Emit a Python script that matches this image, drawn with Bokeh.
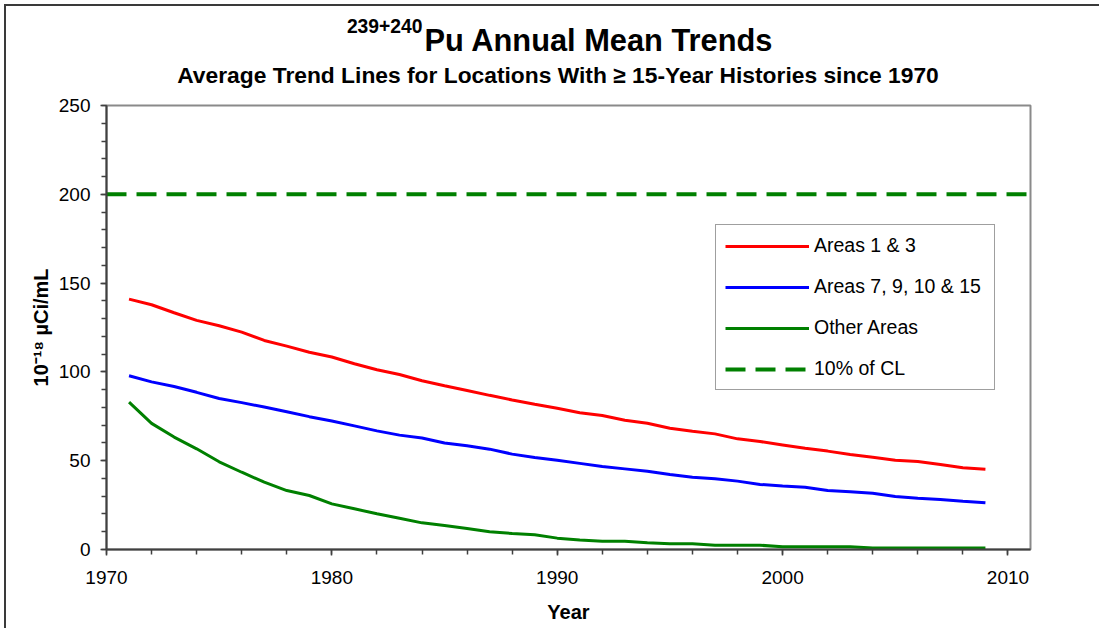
from bokeh.plotting import figure
from bokeh.layouts import column
from bokeh.models import Range1d, Label, FixedTicker
from bokeh.embed import file_html
from bokeh.resources import INLINE

# ---------------- data ----------------
years = list(range(1971, 2010))
areas_1_3 = [141.0, 137.8, 133.3, 129.0, 126.0, 122.4, 117.7, 114.5, 111.1, 108.4,
             104.6, 101.2, 98.5, 95.0, 92.2, 89.5, 86.8, 84.2, 81.8, 79.5,
             77.0, 75.5, 72.8, 71.1, 68.3, 66.6, 65.1, 62.3, 60.8, 58.9,
             57.0, 55.4, 53.5, 52.0, 50.3, 49.5, 47.9, 46.0, 45.2]
areas_7_9_10_15 = [97.8, 94.4, 91.8, 88.5, 85.0, 82.7, 80.2, 77.6, 74.8, 72.4,
                   69.6, 66.8, 64.4, 62.8, 60.0, 58.4, 56.5, 53.7, 51.8, 50.3,
                   48.5, 46.7, 45.4, 44.1, 42.2, 40.7, 39.8, 38.5, 36.6, 35.8,
                   35.1, 33.2, 32.5, 31.7, 29.8, 28.9, 28.2, 27.2, 26.3]
other_areas = [83.0, 71.0, 63.3, 56.7, 49.4, 43.5, 37.9, 33.2, 30.4, 25.7,
               22.9, 20.1, 17.6, 15.0, 13.5, 11.8, 10.0, 9.0, 8.3, 6.4,
               5.4, 4.7, 4.7, 3.8, 3.2, 3.2, 2.4, 2.4, 2.4, 1.5,
               1.5, 1.5, 1.5, 0.8, 0.8, 0.8, 0.8, 0.8, 0.8]
cl_years = [1970, 2011]
cl_level = [200, 200]

series_labels = ["Areas 1 & 3", "Areas 7, 9, 10 & 15", "Other Areas", "10% of CL"]
x_ticks = [1970, 1980, 1990, 2000, 2010]
x_minor = list(range(1970, 2012, 2))
y_ticks = [0, 50, 100, 150, 200, 250]
y_minor = list(range(0, 251, 10))

title_sup = "239+240"
title_main = "Pu Annual Mean Trends"
subtitle = "Average Trend Lines for Locations With \u2265 15-Year Histories since 1970"
y_label = "10\u207b\u00b9\u2078 \u00b5Ci/mL"
x_label = "Year"

FONT = "Liberation Sans"
AXIS_C = "#404040"
W = 1095

# ---------------- title strip (frame is aligned with the chart frame) ----------------
TH = 89
t = figure(width=W, height=TH, output_backend="svg", toolbar_location=None,
           x_range=Range1d(106, 1030), y_range=Range1d(TH, 0),
           min_border=0, min_border_left=100, min_border_right=71,
           min_border_top=0, min_border_bottom=0)
t.axis.visible = False
t.grid.visible = False
t.outline_line_color = None
t.add_layout(Label(x=422, y=19.3, text=title_sup, text_align="right",
                   text_baseline="alphabetic", text_font=FONT, text_font_size="19.3px",
                   text_font_style="bold", text_color="black"))
t.add_layout(Label(x=424, y=34.3, text=title_main, text_align="left",
                   text_baseline="alphabetic", text_font=FONT, text_font_size="30.8px",
                   text_font_style="bold", text_color="black"))
t.add_layout(Label(x=557.5, y=68.7, text=subtitle, text_align="center",
                   text_baseline="alphabetic", text_font=FONT, text_font_size="22.8px",
                   text_font_style="bold", text_color="black"))

# ---------------- main chart ----------------
p = figure(width=W, height=535, output_backend="svg", toolbar_location=None,
           x_range=Range1d(1970, 2011), y_range=Range1d(0, 250),
           min_border_left=100, min_border_right=71, min_border_top=10,
           min_border_bottom=81)

p.xgrid.visible = False
p.ygrid.visible = False
p.outline_line_color = "#8a8a8a"
p.outline_line_width = 2

p.xaxis.ticker = FixedTicker(ticks=x_ticks, minor_ticks=x_minor)
p.yaxis.ticker = FixedTicker(ticks=y_ticks, minor_ticks=y_minor)

for ax in (p.xaxis, p.yaxis):
    ax.axis_line_color = AXIS_C
    ax.axis_line_width = 2
    ax.major_tick_line_color = AXIS_C
    ax.minor_tick_line_color = AXIS_C
    ax.major_tick_line_width = 1.5
    ax.minor_tick_line_width = 1.5
    ax.major_tick_out = 6
    ax.major_tick_in = 0
    ax.minor_tick_out = 5
    ax.minor_tick_in = 0
    ax.major_label_text_font = FONT
    ax.major_label_text_font_size = "19px"
    ax.major_label_text_color = "black"
    ax.axis_label_text_font = FONT
    ax.axis_label_text_font_size = "20px"
    ax.axis_label_text_font_style = "bold"
    ax.axis_label_text_color = "black"

p.xaxis.major_label_standoff = 15
p.yaxis.major_label_standoff = 10
p.xaxis.axis_label = x_label
p.yaxis.axis_label = y_label
p.xaxis.axis_label_standoff = 14
p.yaxis.axis_label_standoff = 4

p.line(years, areas_1_3, line_color="#ff0000", line_width=3, legend_label=series_labels[0])
p.line(years, areas_7_9_10_15, line_color="#0000ff", line_width=3, legend_label=series_labels[1])
p.line(years, other_areas, line_color="#008000", line_width=3, legend_label=series_labels[2])
p.line(cl_years, cl_level, line_color="#008000", line_width=4, line_dash="20 10",
       legend_label=series_labels[3])

lg = p.legend[0]
lg.location = (609, 159)
lg.margin = 0
lg.padding = 9
lg.spacing = 18
lg.glyph_width = 84
lg.glyph_height = 20
lg.label_height = 20
lg.label_width = 171
lg.label_standoff = 5
lg.label_text_font = FONT
lg.label_text_font_size = "19.5px"
lg.label_text_color = "black"
lg.border_line_color = "#404040"
lg.border_line_width = 1.5
lg.background_fill_color = "white"
lg.background_fill_alpha = 1.0

page = column(t, p, spacing=0)
page.styles = {"margin-left": "6px", "margin-top": "6px",
               "box-shadow": "-2px -2px 0 0 #3a3a3a"}

open("out.html", "w").write(file_html(page, INLINE))
